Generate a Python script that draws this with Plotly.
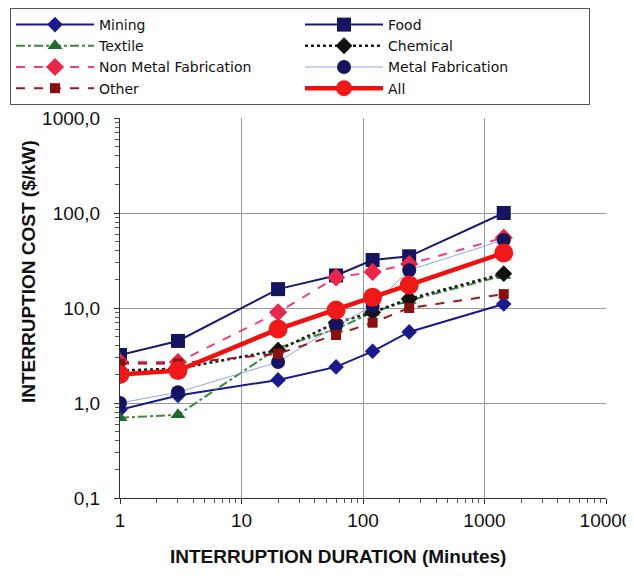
import plotly.graph_objects as go

duration = [1, 3, 20, 60, 120, 240, 1440]

mining = [0.85, 1.2, 1.75, 2.4, 3.5, 5.6, 11]
food = [3.2, 4.5, 15.8, 22, 32, 35, 100]
textile = [0.7, 0.75, 3.8, 6.0, 9.0, 12.0, 22]
chemical = [2.2, 2.3, 3.6, 7.0, 9.0, 12.5, 23]
non_metal = [2.7, 2.7, 9.0, 21, 24, 29, 55]
metal_fab = [1.0, 1.3, 2.7, 6.5, 10.5, 25, 52]
other = [2.6, 2.6, 3.3, 5.2, 7.0, 10, 14]
all_ind = [2.0, 2.2, 6.0, 9.5, 13, 17.5, 38]

y_tickvals = [0.1, 1, 10, 100, 1000]
y_ticktext = ["0,1", "1,0", "10,0", "100,0", "1000,0"]
x_tickvals = [1, 10, 100, 1000, 10000]
x_ticktext = ["1", "10", "100", "1000", "10000"]

series = [
    ("Mining", mining, dict(color="#1a1a8c", width=2), dict(symbol="diamond", size=12, color="#1a1a8c")),
    ("Food", food, dict(color="#1a1a6e", width=2), dict(symbol="square", size=14, color="#141460")),
    ("Textile", textile, dict(color="#3d8a3d", width=2, dash="dashdot"), dict(symbol="triangle-up", size=13, color="#1e6b2a")),
    ("Chemical", chemical, dict(color="#1a1a1a", width=2.5, dash="dot"), dict(symbol="diamond", size=13, color="#111111")),
    ("Non Metal Fabrication", non_metal, dict(color="#f0407a", width=2, dash="dash"), dict(symbol="diamond", size=14, color="#e8284a")),
    ("Metal Fabrication", metal_fab, dict(color="#8fa8e6", width=1), dict(symbol="circle", size=14, color="#14145e")),
    ("Other", other, dict(color="#9a1a1a", width=2, dash="dash"), dict(symbol="square", size=10, color="#8a1010")),
    ("All", all_ind, dict(color="#f01010", width=4.5), dict(symbol="circle", size=19, color="#f01818")),
]

fig = go.Figure()
for name, vals, line, marker in series:
    fig.add_trace(go.Scatter(x=duration, y=vals, name=name, mode="lines+markers",
                             line=line, marker=marker))

FONT = "Liberation Sans, Arial"
tick_font = dict(family=FONT, size=19, color="#111")
title_font = dict(family=FONT, size=19, color="#111")

# page body has an 8px margin, so the figure is drawn 8px right/down
L, T = 112, 110
PW, PH = 486, 380
ITEMW = 78
fig.update_layout(
    width=626, height=568,
    margin=dict(l=L, r=626 - L - PW, t=T, b=568 - T - PH, autoexpand=False),
    paper_bgcolor="white", plot_bgcolor="white",
    font=dict(family=FONT, color="#111"),
    showlegend=True,
    legend=dict(
        orientation="h", x=-(L - 2) / PW, y=1 + (T - 0) / PH,
        xref="paper", yref="paper",
        xanchor="left", yanchor="top",
        entrywidth=284 - ITEMW - 10, entrywidthmode="pixels",
        itemwidth=ITEMW, tracegroupgap=0,
        font=dict(family="DejaVu Sans", size=14, color="#111"),
        bordercolor="#555", borderwidth=1, bgcolor="white",
    ),
    xaxis=dict(
        type="log", range=[0, 4],
        tickvals=x_tickvals, ticktext=x_ticktext, tickfont=tick_font,
        ticks="outside", ticklen=5, tickcolor="#333",
        minor=dict(ticks="outside", ticklen=4, tickcolor="#555", dtick="D1", showgrid=False),
        showgrid=True, gridcolor="#999", gridwidth=1,
        showline=True, linecolor="#333", linewidth=1,
        zeroline=False,
    ),
    yaxis=dict(
        type="log", range=[-1, 3],
        tickvals=y_tickvals, ticktext=y_ticktext, tickfont=tick_font,
        ticks="outside", ticklen=5, tickcolor="#333",
        minor=dict(ticks="outside", ticklen=4, tickcolor="#555", dtick="D1", showgrid=False),
        showgrid=True, gridcolor="#999", gridwidth=1,
        showline=True, linecolor="#333", linewidth=1,
        zeroline=False, ticklabelstandoff=10,
    ),
    annotations=[
        dict(text="<b>INTERRUPTION DURATION (Minutes)</b>", xref="paper", yref="paper",
             x=(338 - 120) / PW, y=-(556 - 498) / PH, xanchor="center", yanchor="middle",
             showarrow=False, font=title_font),
        dict(text="<b>INTERRUPTION COST ($/kW)</b>", xref="paper", yref="paper",
             x=-(120 - 28) / PW, y=(498 - 272) / PH, xanchor="center", yanchor="middle",
             textangle=-90, showarrow=False, font=title_font),
    ],
)

fig.write_html("out.html")
